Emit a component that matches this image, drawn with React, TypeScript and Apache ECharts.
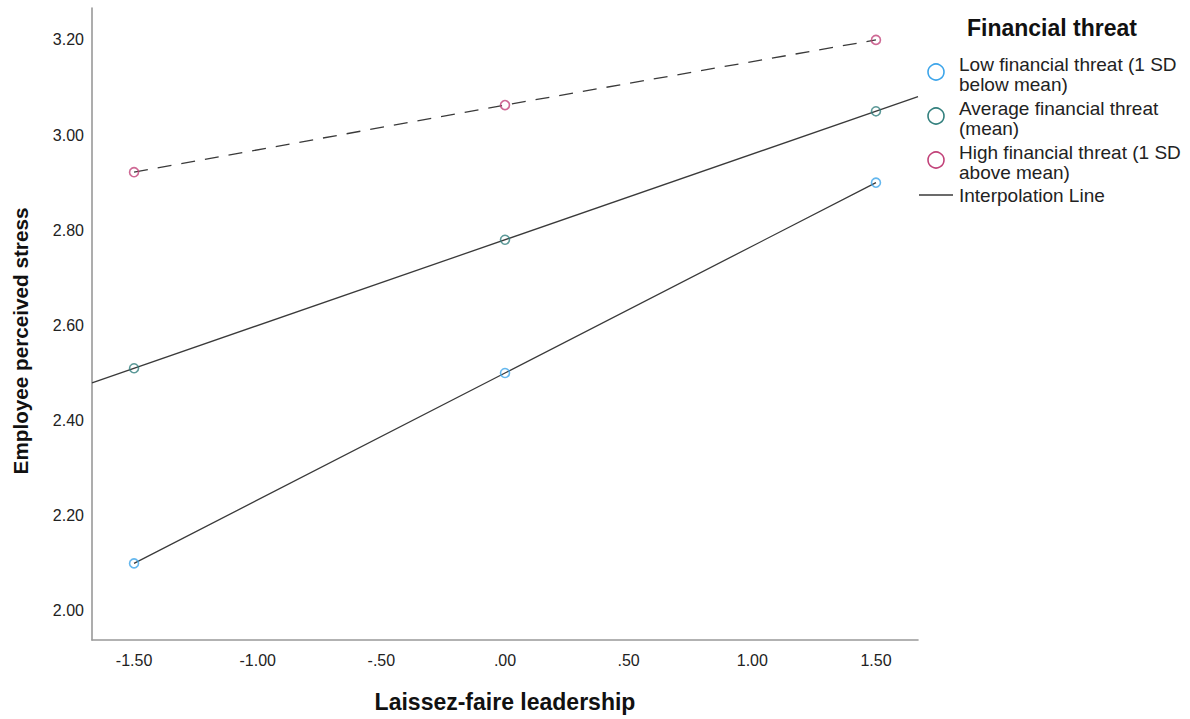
import React, { useEffect, useRef } from "react";
import * as echarts from "echarts";

const xValues = [-1.5, 0, 1.5];
const lowValues = [2.1, 2.5, 2.9];
const avgValues = [2.51, 2.78, 3.05];
const highValues = [2.922, 3.063, 3.2];
const groupNames = [
  ["Low financial threat (1 SD", "below mean)"],
  ["Average financial threat", "(mean)"],
  ["High financial threat (1 SD", "above mean)"],
];
const groupColors = ["#3da5ea", "#33807e", "#c24279"];
const legendTitle = "Financial threat";
const interpolationLabel = "Interpolation Line";
const xTitle = "Laissez-faire leadership";
const yTitle = "Employee perceived stress";
const X_MIN = -1.67;
const X_MAX = 1.67;
const Y_MIN = 1.939;
const Y_MAX = 3.267;

const FONT = "'Liberation Sans', Arial, sans-serif";
const LINE_COLOR = "#3a3a3a";

function fitLine(xs: number[], ys: number[]): [number, number][] {
  const n = xs.length;
  const mx = xs.reduce((a, b) => a + b, 0) / n;
  const my = ys.reduce((a, b) => a + b, 0) / n;
  let sxy = 0;
  let sxx = 0;
  for (let i = 0; i < n; i++) {
    sxy += (xs[i] - mx) * (ys[i] - my);
    sxx += (xs[i] - mx) * (xs[i] - mx);
  }
  const b = sxy / sxx;
  const a = my - b * mx;
  return [
    [X_MIN, a + b * X_MIN],
    [X_MAX, a + b * X_MAX],
  ];
}

function fmt(v: number, step: number): string {
  const k = v / step;
  if (Math.abs(k - Math.round(k)) > 1e-6) return "";
  let s = (Math.abs(v) < 1e-9 ? 0 : v).toFixed(2);
  s = s.replace(/^(-?)0\./, "$1.");
  return s;
}

export default function App() {
  const ref = useRef<HTMLDivElement>(null);
  useEffect(() => {
    document.body.style.margin = "0";
    if (!ref.current) return;
    const chart = echarts.init(ref.current, undefined, { renderer: "svg" });
    const pts = (ys: number[]) => xValues.map((x, i) => [x, ys[i]]);
    const scatter = (ys: number[], color: string, name: string) => ({
      type: "scatter",
      name,
      data: pts(ys),
      symbol: "circle",
      symbolSize: 9,
      z: 5,
      itemStyle: { color: "rgba(0,0,0,0)", borderColor: color, borderWidth: 1.6 },
    });
    const legendGraphics: any[] = [
      {
        type: "text",
        left: 967,
        top: 16,
        style: { text: legendTitle, font: `bold 23px ${FONT}`, fill: "#111" },
      },
    ];
    const rowY = [72, 116, 160];
    groupNames.forEach((lines, i) => {
      legendGraphics.push({
        type: "circle",
        shape: { cx: 936, cy: rowY[i], r: 8 },
        style: { fill: "none", stroke: groupColors[i], lineWidth: 1.6 },
      });
      legendGraphics.push({
        type: "text",
        left: 959,
        top: rowY[i] - 18,
        style: {
          text: lines.join("\n"),
          font: `19px ${FONT}`,
          lineHeight: 20,
          fill: "#222",
        },
      });
    });
    legendGraphics.push({
      type: "line",
      shape: { x1: 919, y1: 195, x2: 953, y2: 195 },
      style: { stroke: LINE_COLOR, lineWidth: 1.3 },
    });
    legendGraphics.push({
      type: "text",
      left: 959,
      top: 185,
      style: { text: interpolationLabel, font: `19px ${FONT}`, lineHeight: 20, fill: "#222" },
    });
    legendGraphics.push({
      type: "text",
      x: 505,
      y: 702,
      style: {
        text: xTitle,
        font: `bold 23px ${FONT}`,
        fill: "#111",
        align: "center",
        verticalAlign: "middle",
      },
    });
    legendGraphics.push({
      type: "text",
      x: 20,
      y: 341,
      rotation: Math.PI / 2,
      style: {
        text: yTitle,
        font: `bold 20.7px ${FONT}`,
        fill: "#111",
        align: "center",
        verticalAlign: "middle",
      },
    });

    chart.setOption({
      animation: false,
      backgroundColor: "#fff",
      grid: { left: 92, top: 8, width: 826, height: 632, containLabel: false },
      xAxis: {
        type: "value",
        min: X_MIN,
        max: X_MAX,
        minInterval: 0.5,
        maxInterval: 0.5,
        axisLine: { show: true, onZero: false, lineStyle: { color: "#999", width: 1.6 } },
        axisTick: { show: false },
        splitLine: { show: false },
        axisLabel: {
          formatter: (v: number) => fmt(v, 0.5),
          color: "#222",
          fontSize: 16,
          fontFamily: FONT,
          margin: 12,
          showMinLabel: true,
          showMaxLabel: true,
        },
      },
      yAxis: {
        type: "value",
        min: Y_MIN,
        max: Y_MAX,
        minInterval: 0.2,
        maxInterval: 0.2,
        axisLine: { show: true, onZero: false, lineStyle: { color: "#999", width: 1.6 } },
        axisTick: { show: false },
        splitLine: { show: false },
        axisLabel: {
          formatter: (v: number) => fmt(v, 0.2),
          color: "#222",
          fontSize: 16,
          fontFamily: FONT,
          margin: 8,
        },
      },
      series: [
        {
          type: "line",
          data: pts(lowValues),
          showSymbol: false,
          lineStyle: { color: LINE_COLOR, width: 1.3 },
          z: 3,
        },
        {
          type: "line",
          data: fitLine(xValues, avgValues),
          showSymbol: false,
          lineStyle: { color: LINE_COLOR, width: 1.3 },
          z: 3,
        },
        {
          type: "line",
          data: pts(highValues),
          showSymbol: false,
          lineStyle: { color: LINE_COLOR, width: 1.3, type: [14, 10] },
          z: 3,
        },
        scatter(lowValues, groupColors[0], groupNames[0].join(" ")),
        scatter(avgValues, groupColors[1], groupNames[1].join(" ")),
        scatter(highValues, groupColors[2], groupNames[2].join(" ")),
      ],
      graphic: legendGraphics,
    });
    return () => chart.dispose();
  }, []);
  return <div ref={ref} style={{ width: 1190, height: 719 }} />;
}
